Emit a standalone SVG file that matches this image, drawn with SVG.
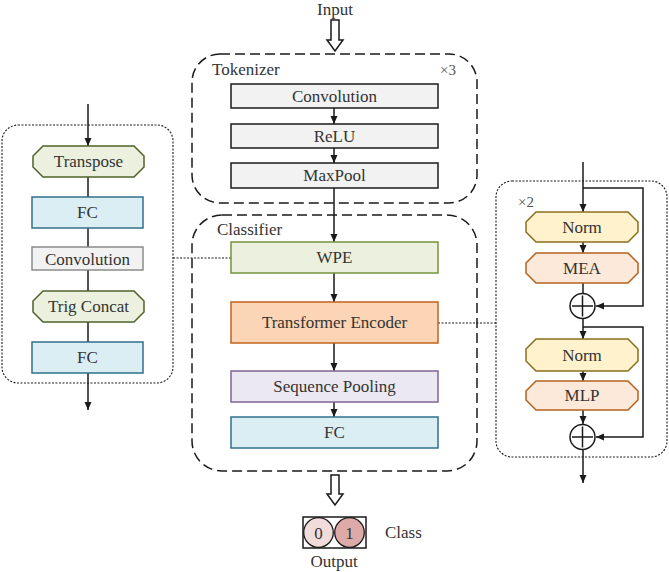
<svg xmlns="http://www.w3.org/2000/svg" width="669" height="572" viewBox="0 0 669 572" font-family="Liberation Serif, DejaVu Serif, serif">
<defs>
<marker id="ah" markerUnits="userSpaceOnUse" markerWidth="8" markerHeight="8" refX="8" refY="4" orient="auto">
<path d="M0,0.5 L8,4 L0,7.5 z" fill="#1a1a1a"/>
</marker>
<style>
text{font-family:'Liberation Serif','DejaVu Serif',serif;font-size:17px;fill:#333;text-anchor:middle}
.lbl{text-anchor:start}
.dash{fill:none;stroke:#1a1a1a;stroke-width:1.5;stroke-dasharray:10,5}
.dot{fill:none;stroke:#1a1a1a;stroke-width:1.1;stroke-dasharray:2,1.5}
.ln{fill:none;stroke:#1a1a1a;stroke-width:1.5}
.arr{fill:none;stroke:#1a1a1a;stroke-width:1.5;marker-end:url(#ah)}
.gray{fill:#f2f2f2;stroke:#1a1a1a;stroke-width:1.5}
.grayl{fill:#f2f2f2;stroke:#8c8c8c;stroke-width:1.5}
.green{fill:#ebf1de;stroke:#77933c;stroke-width:1.5}
.dgreen{fill:#ebf1de;stroke:#4f6228;stroke-width:1.5}
.orange{fill:#fbd5b5;stroke:#c0631c;stroke-width:1.5}
.purple{fill:#ece8f1;stroke:#7f6497;stroke-width:1.5}
.blue{fill:#dbeef4;stroke:#31708a;stroke-width:1.5}
.yellow{fill:#fff2cc;stroke:#8a6d1e;stroke-width:1.5}
.peach{fill:#fde9d9;stroke:#b5621e;stroke-width:1.5}
.hollow{fill:#fff;stroke:#1a1a1a;stroke-width:1.5}
</style>
</defs>

<g id="containers">
<rect id="tokenizer-box" class="dash" x="192" y="54" width="285" height="149" rx="28"/>
<rect id="classifier-box" class="dash" x="192" y="215" width="285" height="256" rx="30"/>
<rect id="wpe-detail-box" class="dot" x="2" y="125" width="171" height="258" rx="16"/>
<rect id="encoder-detail-box" class="dot" x="496" y="181" width="171" height="276" rx="16"/>
</g>

<g id="connectors">
<line class="arr" x1="334" y1="108" x2="334" y2="124"/>
<line class="arr" x1="334" y1="148" x2="334" y2="163"/>
<line class="arr" x1="334" y1="188" x2="334" y2="242"/>
<line class="arr" x1="334" y1="273" x2="334" y2="302"/>
<line class="arr" x1="334" y1="343" x2="334" y2="371"/>
<line class="arr" x1="334" y1="402" x2="334" y2="417"/>
<line class="arr" x1="88" y1="104" x2="88" y2="146"/>
<line class="ln" x1="88" y1="177" x2="88" y2="197"/>
<line class="ln" x1="88" y1="228" x2="88" y2="247"/>
<line class="ln" x1="88" y1="270" x2="88" y2="291"/>
<line class="ln" x1="88" y1="322" x2="88" y2="342"/>
<line class="arr" x1="88" y1="373" x2="88" y2="410"/>
<line class="dot" x1="173" y1="258" x2="231" y2="258"/>
<line class="dot" x1="438" y1="323" x2="496" y2="323"/>
<line class="arr" x1="583" y1="162" x2="583" y2="212"/>
<polyline class="arr" points="583,188 643,188 643,306 596,306"/>
<line class="arr" x1="583" y1="242" x2="583" y2="253"/>
<line class="ln" x1="583" y1="283" x2="583" y2="293"/>
<line class="arr" x1="583" y1="319" x2="583" y2="339"/>
<polyline class="arr" points="583,327 643,327 643,437 596,437"/>
<line class="arr" x1="583" y1="371" x2="583" y2="381"/>
<line class="arr" x1="583" y1="410" x2="583" y2="424"/>
<line class="arr" x1="583" y1="450" x2="583" y2="483"/>
</g>

<g id="input">
<text x="335" y="15">Input</text>
<polygon class="hollow" points="331,20 339,20 339,40 343,40 335,51 327,40 331,40"/>
</g>

<g id="tokenizer">
<text class="lbl" x="212" y="75">Tokenizer</text>
<text class="lbl" x="440" y="75" style="font-size:15px;fill:#555">×3</text>
</g>
<g id="tok-conv"><rect class="gray" x="231" y="84" width="207" height="24"/><text x="334.5" y="102">Convolution</text></g>
<g id="tok-relu"><rect class="gray" x="231" y="124" width="207" height="24"/><text x="334.5" y="142">ReLU</text></g>
<g id="tok-maxpool"><rect class="gray" x="231" y="163" width="207" height="25"/><text x="334.5" y="181">MaxPool</text></g>

<g id="classifier"><text class="lbl" x="217" y="235">Classifier</text></g>
<g id="wpe"><rect class="green" x="231" y="242" width="207" height="31"/><text x="334.5" y="263">WPE</text></g>
<g id="transformer-encoder"><rect class="orange" x="231" y="302" width="207" height="41"/><text x="334.5" y="328">Transformer Encoder</text></g>
<g id="sequence-pooling"><rect class="purple" x="231" y="371" width="207" height="31"/><text x="334.5" y="392">Sequence Pooling</text></g>
<g id="fc-main"><rect class="blue" x="231" y="417" width="207" height="31"/><text x="334.5" y="438">FC</text></g>

<g id="output">
<polygon class="hollow" points="331,475 339,475 339,494 343,494 335,505 327,494 331,494"/>
<rect x="303" y="517" width="63" height="31" fill="#fff" stroke="#1a1a1a" stroke-width="1.5"/>
<circle cx="318.5" cy="532.5" r="14.8" fill="#f2dcdb" stroke="#1a1a1a" stroke-width="1.3"/>
<circle cx="349.5" cy="532.5" r="14.8" fill="#deaaa9" stroke="#1a1a1a" stroke-width="1.3"/>
<text x="318.5" y="538.5">0</text>
<text x="349.5" y="538.5">1</text>
<text class="lbl" x="385" y="538">Class</text>
<text x="334" y="567">Output</text>
</g>

<g id="transpose"><polygon class="dgreen" points="43,146 134,146 144,156 144,167 134,177 43,177 33,167 33,156"/><text x="88.5" y="167">Transpose</text></g>
<g id="fc-left-1"><rect class="blue" x="32" y="197" width="111" height="31"/><text x="87.5" y="218">FC</text></g>
<g id="conv-left"><rect class="grayl" x="32" y="247" width="111" height="23"/><text x="87.5" y="264.5">Convolution</text></g>
<g id="trig-concat"><polygon class="dgreen" points="43,291 134,291 144,301 144,312 134,322 43,322 33,312 33,301"/><text x="88.5" y="312">Trig Concat</text></g>
<g id="fc-left-2"><rect class="blue" x="32" y="342" width="111" height="31"/><text x="87.5" y="363">FC</text></g>

<g id="encoder-detail"><text class="lbl" x="518" y="207" style="font-size:15px;fill:#555">×2</text></g>
<g id="norm-1"><polygon class="yellow" points="536,212 628,212 638,222 638,232 628,242 536,242 526,232 526,222"/><text x="582" y="233">Norm</text></g>
<g id="mea"><polygon class="peach" points="536,253 628,253 638,263 638,273 628,283 536,283 526,273 526,263"/><text x="582" y="274">MEA</text></g>
<g id="add-1"><circle cx="582.5" cy="306" r="12.5" fill="#fff" stroke="#1a1a1a" stroke-width="1.5"/><path class="ln" d="M572,306 H593 M582.5,295.5 V316.5"/></g>
<g id="norm-2"><polygon class="yellow" points="536,339 628,339 638,349 638,361 628,371 536,371 526,361 526,349"/><text x="582" y="361">Norm</text></g>
<g id="mlp"><polygon class="peach" points="536,381 628,381 638,391 638,400 628,410 536,410 526,400 526,391"/><text x="582" y="401">MLP</text></g>
<g id="add-2"><circle cx="582.5" cy="437" r="12.5" fill="#fff" stroke="#1a1a1a" stroke-width="1.5"/><path class="ln" d="M572,437 H593 M582.5,426.5 V447.5"/></g>
</svg>
